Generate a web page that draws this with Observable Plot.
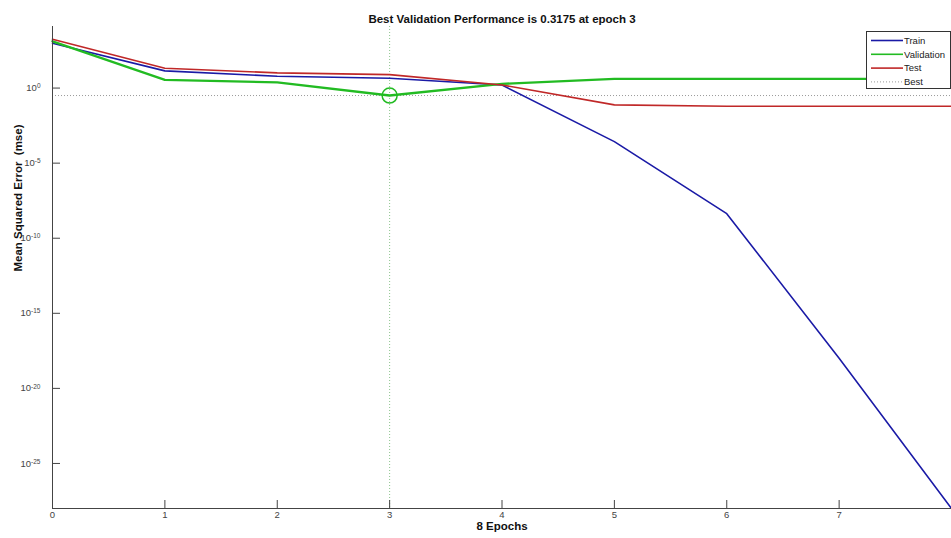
<!DOCTYPE html>
<html>
<head>
<meta charset="utf-8">
<script src="https://cdn.jsdelivr.net/npm/d3@7"></script>
<script src="https://cdn.jsdelivr.net/npm/@observablehq/plot@0.6"></script>
<style>
  html, body { margin: 0; padding: 0; background: #fff; overflow: hidden; }
  #chart { position: relative; width: 951px; height: 538px; }
</style>
</head>
<body>
<div id="chart"></div>
<script>
// ---- data ----
const epochs = [0, 1, 2, 3, 4, 5, 6, 7, 8];
const trainMse = [970, 14, 6.1, 4.5, 1.6, 2.7e-4, 4.3e-9, 1e-18, 1e-28];
const validationMse = [1300, 3.5, 2.4, 0.3175, 1.9, 4.1, 4.1, 4.1, 4.1];
const testMse = [1800, 21, 10.3, 7.9, 1.6, 0.076, 0.061, 0.061, 0.061];
const bestEpoch = 3;
const bestValue = 0.3175;
const xTicks = [0, 1, 2, 3, 4, 5, 6, 7, 8];
const xTickLabels = [0, 1, 2, 3, 4, 5, 6, 7]; // the "8" label falls outside the picture
const yTicks = [1e0, 1e-5, 1e-10, 1e-15, 1e-20, 1e-25];
const yDomain = [1e-28, Math.pow(10, 4.1)];
const seriesNames = ["Train", "Validation", "Test", "Best"];
const seriesColors = ["#1a1aa6", "#22bb22", "#c02828", "#999999"];
const titleText = "Best Validation Performance is 0.3175 at epoch 3";
const xLabel = "8 Epochs";
const yLabel = "Mean Squared Error  (mse)";

// ---- layout ----
const W = 951, H = 538, mL = 52, mR = 0, mT = 26, mB = 30;
const plotW = W - mL - mR, plotH = H - mT - mB;
const axisColor = "#444";

const rows = (vals) => epochs.map((e, i) => ({epoch: e, value: vals[i]}));

const chart = Plot.plot({
  width: W, height: H,
  marginLeft: mL, marginRight: mR, marginTop: mT, marginBottom: mB,
  style: {fontFamily: "'Liberation Sans', Arial, sans-serif", fontSize: "9.5px", color: "#444", background: "#fff", overflow: "visible"},
  x: {domain: [0, 8]},
  y: {type: "log", domain: yDomain},
  marks: [
    // best dotted lines
    Plot.ruleY([bestValue], {stroke: "#9a9a9a", strokeDasharray: "1,2", strokeWidth: 1}),
    Plot.ruleX([bestEpoch], {stroke: "#8cc48c", strokeDasharray: "1,2", strokeWidth: 1}),
    // series
    Plot.line(rows(trainMse), {x: "epoch", y: "value", stroke: seriesColors[0], strokeWidth: 1.6}),
    Plot.line(rows(validationMse), {x: "epoch", y: "value", stroke: seriesColors[1], strokeWidth: 2.4}),
    Plot.line(rows(testMse), {x: "epoch", y: "value", stroke: seriesColors[2], strokeWidth: 1.6}),
    Plot.dot([{epoch: bestEpoch, value: bestValue}], {x: "epoch", y: "value", r: 7.5, stroke: seriesColors[1], strokeWidth: 1.5, fill: "none"}),
    // axes lines
    Plot.ruleX([0], {stroke: axisColor, strokeWidth: 1}),
    Plot.ruleY([yDomain[0]], {stroke: axisColor, strokeWidth: 1}),
    // inward ticks
    Plot.ruleY(yTicks, {stroke: axisColor, strokeWidth: 1, insetRight: plotW - 8}),
    Plot.ruleX(xTicks, {stroke: axisColor, strokeWidth: 1, insetTop: plotH - 8}),
    // tick labels
    Plot.axisX({ticks: xTickLabels, tickSize: 0, tickPadding: 3, label: null, tickFormat: d => String(d)}),
    Plot.axisY({ticks: yTicks, tickSize: 0, tickPadding: 12, label: null, tickFormat: d => "E" + Math.round(Math.log10(d))}),
    // title and labels
    Plot.text([titleText], {text: d => d, frameAnchor: "top", dy: -12, fontWeight: "bold", fontSize: 11.5, fill: "#111"}),
    Plot.text([xLabel], {text: d => d, frameAnchor: "bottom", dy: 21, fontWeight: "bold", fontSize: 11.5, fill: "#111"}),
    Plot.text([yLabel], {text: d => d, frameAnchor: "left", dx: -34, dy: 4, rotate: -90, fontWeight: "bold", fontSize: 11.5, fill: "#111"})
  ]
});

document.getElementById("chart").appendChild(chart);

// superscript exponents on y tick labels
d3.select(chart).selectAll('g[aria-label="y-axis tick label"] text').each(function() {
  const t = d3.select(this);
  const s = t.text();
  if (s.startsWith("E")) {
    const exp = s.slice(1);
    t.text("10");
    t.append("tspan").attr("dy", "-0.45em").attr("font-size", "6.5px").text(exp);
  }
});

// legend box (drawn from the series arrays)
const svg = d3.select(chart);
const lg = svg.append("g").attr("transform", "translate(866,31)");
lg.append("rect").attr("x", 0.5).attr("y", 0.5).attr("width", 84).attr("height", 57)
  .attr("fill", "#fff").attr("stroke", "#333").attr("stroke-width", 1);
seriesNames.forEach((name, i) => {
  const yy = 9.5 + i * 13.8;
  lg.append("line").attr("x1", 5).attr("x2", 37).attr("y1", yy).attr("y2", yy)
    .attr("stroke", seriesColors[i]).attr("stroke-width", name === "Best" ? 1 : 1.6)
    .attr("stroke-dasharray", name === "Best" ? "1,2" : null);
  lg.append("text").attr("x", 38).attr("y", yy).attr("dy", "0.35em")
    .attr("text-anchor", "start")
    .attr("font-size", "9.5px").attr("fill", "#222").text(name);
});
</script>
</body>
</html>
